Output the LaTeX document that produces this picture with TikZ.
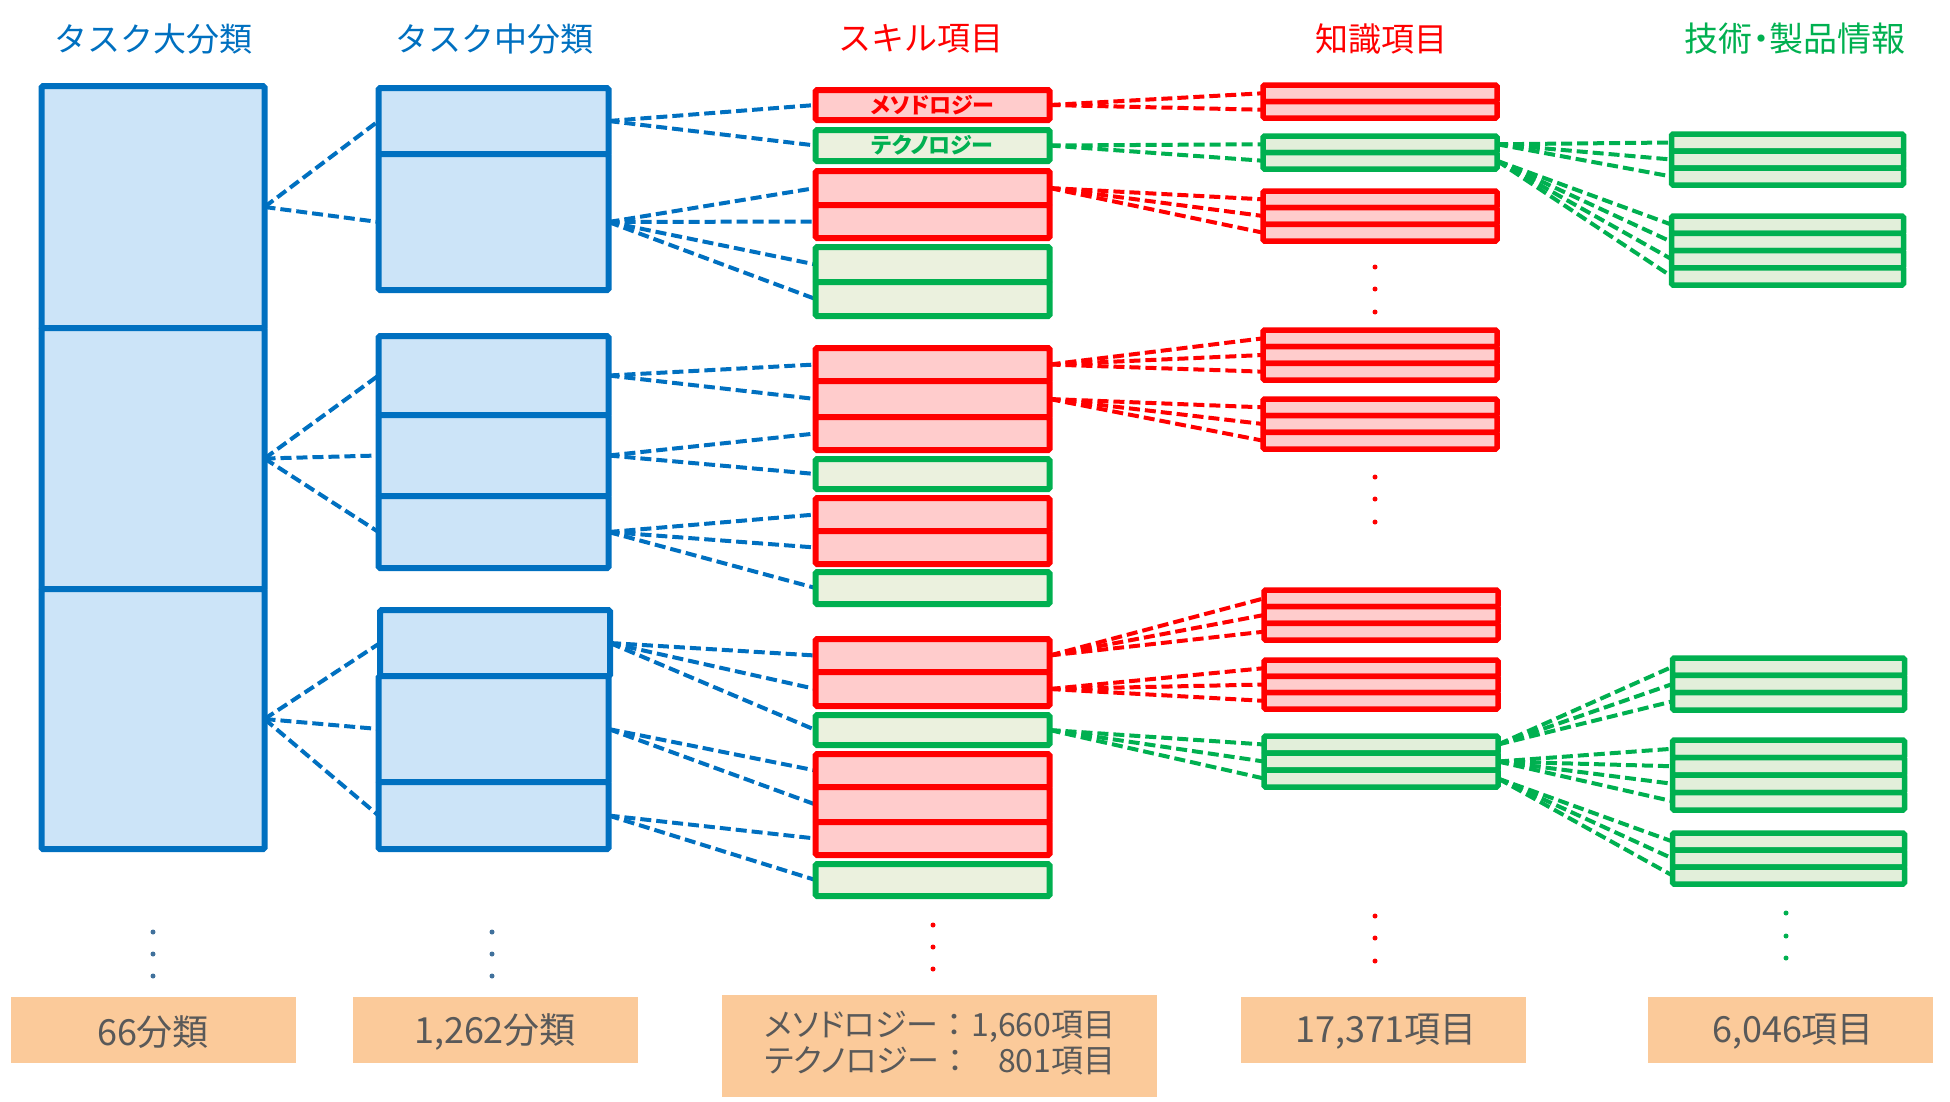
\documentclass[tikz,border=0pt]{standalone}
\usepackage{fontspec}
\newfontfamily\jp{Noto Sans CJK JP}
\newfontfamily\jpp[RawFeature=+palt]{Noto Sans CJK JP}
\definecolor{tblue}{HTML}{0070C0}
\definecolor{fblue}{HTML}{CCE4F8}
\definecolor{tred}{HTML}{FF0000}
\definecolor{fred}{HTML}{FFCCCC}
\definecolor{tgreen}{HTML}{00B050}
\definecolor{fgreen}{HTML}{EBF1DE}
\definecolor{fgreentwo}{HTML}{E2EFDA}
\definecolor{forange}{HTML}{FBCA9A}
\definecolor{tgray}{HTML}{595959}
\definecolor{dotblue}{HTML}{41719C}
\pgfdeclarelayer{conn}
\pgfsetlayers{conn,main}
\tikzset{
  box/.style={draw, line width=6pt, inner sep=0pt, outer sep=0pt, rounded corners=1.5pt},
  bbox/.style={box, draw=tblue, fill=fblue},
  rbox/.style={box, draw=tred, fill=fred},
  gbox/.style={box, draw=tgreen, fill=fgreen},
  rthin/.style={box, line width=5.5pt, draw=tred, fill=fred},
  gthin/.style={box, line width=5.5pt, draw=tgreen, fill=fgreentwo},
  link/.style={line width=4pt, dash pattern=on 11pt off 5pt},
  bl/.style={link, draw=tblue},
  rl/.style={link, draw=tred},
  gl/.style={link, draw=tgreen},
  title/.style={font=\jp\fontsize{33}{40}\selectfont, inner sep=0pt},
  tally/.style={fill=forange, inner sep=0pt},
  tallytext/.style={text=tgray, inner sep=0pt, font=\jp\fontsize{36}{40}\selectfont},
  dotmark/.style={circle, inner sep=0pt, minimum size=5pt},
}
\newcommand\cellstack[7]{%
  \pgfmathsetmacro\stkh{(#5-#4)/#6}%
  \foreach \i in {1,...,#6}{%
    \pgfmathsetmacro\stky{#4+(\i-0.5)*\stkh}%
    \node[#7, minimum width=#3pt, minimum height=\stkh pt] (#1\i) at (#2,\stky) {};%
  }%
}
\newcommand\onecell[7]{%
  \pgfmathsetmacro\oneh{#5-#4}%
  \pgfmathsetmacro\onecy{(#4+#5)/2}%
  \node[#6, minimum width=#3pt, minimum height=\oneh pt] (#1) at (#2,\onecy) {#7};%
}
\begin{document}
\begin{tikzpicture}[x=1pt,y=-1pt]
\useasboundingbox (0,0) rectangle (1950,1101);

% titles
\node[title, text=tblue] (h1) at (153,39) {タスク大分類};
\node[title, text=tblue] (h2) at (494,39) {タスク中分類};
\node[title, text=tred] (h3) at (921,39) {スキル項目};
\node[title, text=tred] (h4) at (1381,39) {知識項目};
\node[title, text=tgreen, font=\jpp\fontsize{34}{40}\selectfont] (h5) at (1795,39) {技術・製品情報};

% column 1
\onecell{L1}{153}{223}{86}{328}{bbox}{}
\onecell{L2}{153}{223}{328}{589}{bbox}{}
\onecell{L3}{153}{223}{589}{849}{bbox}{}

% column 2
\onecell{M1}{493.5}{230}{88}{154}{bbox}{}
\onecell{M2}{493.5}{230}{154}{290}{bbox}{}
\onecell{M3}{493.5}{230}{336}{415}{bbox}{}
\onecell{M4}{493.5}{230}{415}{496}{bbox}{}
\onecell{M5}{493.5}{230}{496}{568}{bbox}{}
\onecell{M6}{495}{230}{610}{676}{bbox}{}
\onecell{M7}{493.5}{230}{676}{782}{bbox}{}
\onecell{M8}{493.5}{230}{782}{849}{bbox}{}

% column 3 (skills)
\onecell{S1}{932.5}{234}{90}{120}{rbox}{\jpp\fontsize{22}{24}\selectfont\bfseries\color{tred}メソドロジー}
\onecell{S2}{932.5}{234}{130}{161}{gbox}{\jpp\fontsize{22}{24}\selectfont\bfseries\color{tgreen}テクノロジー}
\onecell{S5}{932.5}{234}{247}{282}{gbox}{}
\onecell{S6}{932.5}{234}{282}{316}{gbox}{}
\onecell{S3}{932.5}{234}{171}{205}{rbox}{}
\onecell{S4}{932.5}{234}{205}{238}{rbox}{}
\onecell{S7}{932.5}{234}{348}{381}{rbox}{}
\onecell{S8}{932.5}{234}{381}{417}{rbox}{}
\onecell{S9}{932.5}{234}{417}{450}{rbox}{}
\onecell{S10}{932.5}{234}{459}{489}{gbox}{}
\onecell{S11}{932.5}{234}{498}{531}{rbox}{}
\onecell{S12}{932.5}{234}{531}{564}{rbox}{}
\onecell{S13}{932.5}{234}{572}{604}{gbox}{}
\onecell{S14}{932.5}{234}{639}{672}{rbox}{}
\onecell{S15}{932.5}{234}{672}{706}{rbox}{}
\onecell{S16}{932.5}{234}{715}{745}{gbox}{}
\onecell{S17}{932.5}{234}{754}{787}{rbox}{}
\onecell{S18}{932.5}{234}{787}{822}{rbox}{}
\onecell{S19}{932.5}{234}{822}{855}{rbox}{}
\onecell{S20}{932.5}{234}{864}{896}{gbox}{}

% column 4 (knowledge)
\cellstack{k1-}{1380}{234}{85}{118}{2}{rthin}
\cellstack{k2-}{1380}{234}{136}{169}{2}{gthin}
\cellstack{k3-}{1380}{234}{191}{241}{3}{rthin}
\cellstack{k4-}{1380}{234}{330}{380}{3}{rthin}
\cellstack{k5-}{1380}{234}{399}{449}{3}{rthin}
\cellstack{k6-}{1381}{234}{590}{640}{3}{rthin}
\cellstack{k7-}{1381}{234}{660}{709}{3}{rthin}
\cellstack{k8-}{1381}{234}{736}{787}{3}{gthin}

% column 5 (tech / products)
\cellstack{t1-}{1787.5}{232}{134}{185}{3}{gthin}
\cellstack{t2-}{1787.5}{232}{216}{285}{4}{gthin}
\cellstack{t3-}{1788.5}{232}{658}{710}{3}{gthin}
\cellstack{t4-}{1788.5}{232}{740}{810}{4}{gthin}
\cellstack{t5-}{1788.5}{232}{833}{884}{3}{gthin}

% connectors
\begin{pgfonlayer}{conn}
\foreach \t in {M1,M2} \draw[bl] (L1.east) -- (\t.west);
\foreach \t in {M3,M4,M5} \draw[bl] (L2.east) -- (\t.west);
\foreach \t in {M6,M7,M8} \draw[bl] (L3.east) -- (\t.west);
\foreach \t in {S1,S2} \draw[bl] (M1.east) -- (\t.west);
\foreach \t in {S3,S4,S5,S6} \draw[bl] (M2.east) -- (\t.west);
\foreach \t in {S7,S8} \draw[bl] (M3.east) -- (\t.west);
\foreach \t in {S9,S10} \draw[bl] (M4.east) -- (\t.west);
\foreach \t in {S11,S12,S13} \draw[bl] (M5.east) -- (\t.west);
\foreach \t in {S14,S15,S16} \draw[bl] (M6.east) -- (\t.west);
\foreach \t in {S17,S18} \draw[bl] (M7.east) -- (\t.west);
\foreach \t in {S19,S20} \draw[bl] (M8.east) -- (\t.west);
\foreach \t in {k1-1,k1-2} \draw[rl] (S1.east) -- (\t.west);
\foreach \t in {k2-1,k2-2} \draw[gl] (S2.east) -- (\t.west);
\foreach \t in {k3-1,k3-2,k3-3} \draw[rl] (S3.east) -- (\t.west);
\foreach \t in {k4-1,k4-2,k4-3} \draw[rl] (S7.east) -- (\t.west);
\foreach \t in {k5-1,k5-2,k5-3} \draw[rl] (S8.east) -- (\t.west);
\foreach \t in {k6-1,k6-2,k6-3} \draw[rl] (S14.east) -- (\t.west);
\foreach \t in {k7-1,k7-2,k7-3} \draw[rl] (S15.east) -- (\t.west);
\foreach \t in {k8-1,k8-2,k8-3} \draw[gl] (S16.east) -- (\t.west);
\foreach \t in {t1-1,t1-2,t1-3} \draw[gl] (k2-1.east) -- (\t.west);
\foreach \t in {t2-1,t2-2,t2-3,t2-4} \draw[gl] (k2-2.east) -- (\t.west);
\foreach \t in {t3-1,t3-2,t3-3} \draw[gl] (k8-1.east) -- (\t.west);
\foreach \t in {t4-1,t4-2,t4-3,t4-4} \draw[gl] (k8-2.east) -- (\t.west);
\foreach \t in {t5-1,t5-2,t5-3} \draw[gl] (k8-3.east) -- (\t.west);
\end{pgfonlayer}

% ellipsis dots
\foreach \y [count=\n] in {932,954,976}{
  \node[dotmark, fill=dotblue] (da\n) at (153,\y) {};
  \node[dotmark, fill=dotblue] (db\n) at (492,\y) {};
}
\foreach \y [count=\n] in {925,947,969}
  \node[dotmark, fill=tred] (dc\n) at (933,\y) {};
\foreach \y [count=\n] in {267,289,312}
  \node[dotmark, fill=tred] (dd\n) at (1375,\y) {};
\foreach \y [count=\n] in {477,499,522}
  \node[dotmark, fill=tred] (de\n) at (1375,\y) {};
\foreach \y [count=\n] in {916,938,961}
  \node[dotmark, fill=tred] (df\n) at (1375,\y) {};
\foreach \y [count=\n] in {913,936,958}
  \node[dotmark, fill=tgreen] (dg\n) at (1786,\y) {};

% totals
\node[tally, minimum width=285pt, minimum height=66pt] (b1) at (153,1030) {};
\node[tallytext] (b1t) at (153,1032) {66分類};
\node[tally, minimum width=285pt, minimum height=66pt] (b2) at (495,1030) {};
\node[tallytext] (b2t) at (495,1032) {1,262分類};
\node[tally, minimum width=435pt, minimum height=102pt] (b3) at (939.5,1046) {};
\node[tallytext, font=\jpp\fontsize{32}{35}\selectfont] (b3t) at (940,1047) {\begin{tabular}{@{}l@{}r@{}}メソドロジー{\jp ：}&1,660項目\\テクノロジー{\jp ：}&801項目\end{tabular}};
\node[tally, minimum width=285pt, minimum height=66pt] (b4) at (1383,1030) {};
\node[tallytext] (b4t) at (1386,1032) {17,371項目};
\node[tally, minimum width=285pt, minimum height=66pt] (b5) at (1790,1030) {};
\node[tallytext] (b5t) at (1793,1032) {6,046項目};
\end{tikzpicture}
\end{document}
